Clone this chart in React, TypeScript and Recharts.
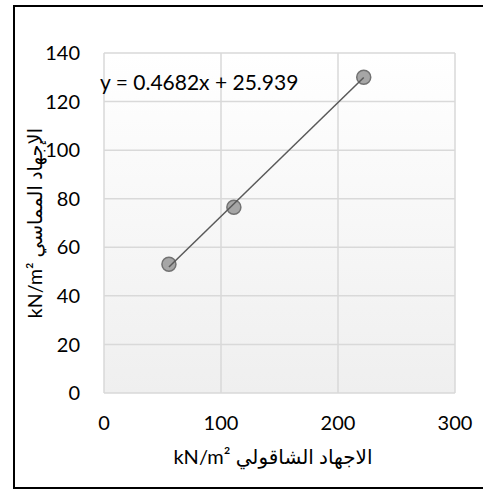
import React from 'react';
import { ScatterChart, Scatter, XAxis, YAxis, CartesianGrid, Customized } from 'recharts';

const verticalStress = [55.5, 111, 222];
const shearStress = [53, 76.5, 130];
const trendX = [55.5, 222];
const trendY = [51.9, 129.9];
const equationText = 'y = 0.4682x + 25.939';
const xTicks = [0, 100, 200, 300];
const yTicks = [0, 20, 40, 60, 80, 100, 120, 140];
const xTitle = 'kN/m² الاجهاد الشاقولي';
const yTitle = 'kN/m² الإجهاد المماسي';

const points = verticalStress.map((x, i) => ({ x, y: shearStress[i] }));
const trend = trendX.map((x, i) => ({ x, y: trendY[i] }));

const FONT = "Lato, 'DejaVu Sans', sans-serif";

const Marker = (props: any) => (
  <circle cx={props.cx} cy={props.cy} r={7} fill="#a6a6a6" stroke="#727272" strokeWidth={1.5} />
);

const Labels = () => (
  <g fontFamily={FONT} fill="#000">
    <text x={100} y={90} fontSize={21}>{equationText}</text>
    <text x={273} y={464} fontSize={20} textAnchor="middle">{xTitle}</text>
    <text x={42} y={223} fontSize={19.5} textAnchor="middle" transform="rotate(-90 42 223)">{yTitle}</text>
  </g>
);

export default function App() {
  return (
    <div style={{ position: 'absolute', left: 0, top: 0, width: 483, height: 491, background: '#fff', overflow: 'hidden' }}>
      <svg width={0} height={0} style={{ position: 'absolute' }}>
        <defs>
          <linearGradient id="plotBg" x1="0" y1="0" x2="0" y2="1">
            <stop offset="0%" stopColor="#ffffff" />
            <stop offset="100%" stopColor="#efefef" />
          </linearGradient>
        </defs>
      </svg>
      <div style={{ position: 'absolute', left: 13, top: 5, width: 500, height: 484, border: '2px solid #000', boxSizing: 'border-box' }} />
      <div style={{ position: 'absolute', left: 0, top: 0 }}>
        <ScatterChart width={483} height={491} margin={{ top: 53, right: 28, bottom: 0, left: 0 }}>
          <CartesianGrid stroke="#d9d9d9" strokeWidth={1.5} fill="url(#plotBg)" fillOpacity={1} />
          <XAxis
            type="number"
            dataKey="x"
            domain={[0, 300]}
            ticks={xTicks}
            height={98}
            axisLine={false}
            tickLine={false}
            tickSize={0}
            tickMargin={23}
            tick={{ fill: '#000', fontSize: 20, fontFamily: FONT }}
            interval={0}
          />
          <YAxis
            type="number"
            dataKey="y"
            domain={[0, 140]}
            ticks={yTicks}
            width={104}
            axisLine={false}
            tickLine={false}
            tickSize={0}
            tickMargin={24}
            tick={{ fill: '#000', fontSize: 20, fontFamily: FONT }}
            interval={0}
          />
          <Scatter data={points} shape={Marker} isAnimationActive={false} />
          <Scatter data={trend} line={{ stroke: '#595959', strokeWidth: 1.5 }} shape={() => <g />} isAnimationActive={false} />
          <Customized component={Labels} />
        </ScatterChart>
      </div>
    </div>
  );
}
